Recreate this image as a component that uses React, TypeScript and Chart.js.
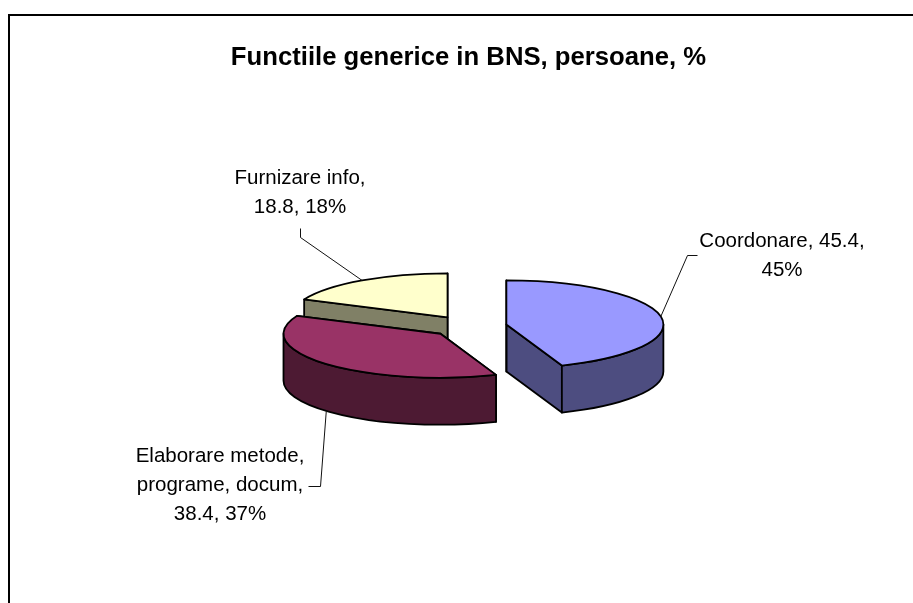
import React, { useEffect, useRef } from "react";
import { Chart, registerables } from "chart.js";

Chart.register(...registerables);

const categories = ["Coordonare", "Elaborare metode, programe, docum", "Furnizare info"];
const values = [45.4, 38.4, 18.8];
const topColors = ["#9999FF", "#993366", "#FFFFCC"];
const sideColors = ["#4D4D80", "#4D1A33", "#808066"];
const titleText = "Functiile generice in BNS, persoane, %";
const labelLines = [
  ["Coordonare, 45.4,", "45%"],
  ["Elaborare metode,", "programe, docum,", "38.4, 37%"],
  ["Furnizare info,", "18.8, 18%"],
];

const Y_RATIO = 0.28;
const DEPTH = 47;
const RADIUS = 157;
const EXPLODE = 38.5;
const LABEL_FONT = "20.5px 'Liberation Sans', Arial, sans-serif";
const LINE_GAP = 29;
// label block: centre x, first-line centre y; leader elbow points (label side)
const labelPlacement = [
  { x: 782, y: 241, elbow: [[697, 255], [687, 255]], onBase: false },
  { x: 220, y: 456, elbow: [[308, 486], [320, 486]], onBase: true },
  { x: 300, y: 178, elbow: [[300, 228], [300, 237]], onBase: false },
];

const pie3d = {
  id: "pie3d",
  beforeDraw(chart: any) {
    const { ctx, width } = chart;
    ctx.save();
    ctx.fillStyle = "#000";
    ctx.fillRect(8, 14, width - 8, 2);
    ctx.fillRect(8, 14, 2, chart.height - 14);
    ctx.restore();
  },
  beforeDatasetsDraw(chart: any) {
    const { ctx } = chart;
    const arcs = chart.getDatasetMeta(0).data;
    const geom = arcs.map((el: any) => {
      const mid = (el.startAngle + el.endAngle) / 2;
      const off = el.options.offset;
      return {
        cx: el.x + Math.cos(mid) * off,
        cy: el.y + Math.sin(mid) * off * Y_RATIO,
        rx: el.outerRadius,
        ry: el.outerRadius * Y_RATIO,
        a0: el.startAngle,
        a1: el.endAngle,
        mid,
      };
    });
    ctx.save();
    ctx.lineWidth = 1.8;
    ctx.strokeStyle = "#000";
    ctx.lineJoin = "round";
    for (let i = arcs.length - 1; i >= 0; i--) {
      const { cx, cy, rx, ry, a0, a1 } = geom[i];
      const rim = (a: number) => [cx + rx * Math.cos(a), cy + ry * Math.sin(a)];
      // radial faces
      for (const a of [a1, a0]) {
        const [x, y] = rim(a);
        ctx.beginPath();
        ctx.moveTo(cx, cy);
        ctx.lineTo(x, y);
        ctx.lineTo(x, y + DEPTH);
        ctx.lineTo(cx, cy + DEPTH);
        ctx.closePath();
        ctx.fillStyle = sideColors[i];
        ctx.fill();
        ctx.stroke();
      }
      // outer wall, front half only
      const w0 = Math.max(a0, 0);
      const w1 = Math.min(a1, Math.PI);
      if (w0 < w1) {
        ctx.beginPath();
        ctx.ellipse(cx, cy, rx, ry, 0, w0, w1);
        ctx.ellipse(cx, cy + DEPTH, rx, ry, 0, w1, w0, true);
        ctx.closePath();
        ctx.fillStyle = sideColors[i];
        ctx.fill();
        ctx.stroke();
      }
      // top
      ctx.beginPath();
      ctx.moveTo(cx, cy);
      ctx.ellipse(cx, cy, rx, ry, 0, a0, a1);
      ctx.closePath();
      ctx.fillStyle = arcs[i].options.backgroundColor;
      ctx.fill();
      ctx.stroke();
    }
    // leaders and labels
    ctx.lineWidth = 1;
    ctx.strokeStyle = "#111";
    ctx.fillStyle = "#000";
    ctx.font = LABEL_FONT;
    ctx.textAlign = "center";
    ctx.textBaseline = "middle";
    labelPlacement.forEach((p, i) => {
      const g = geom[i];
      const ex = g.cx + g.rx * Math.cos(g.mid);
      const ey = g.cy + g.ry * Math.sin(g.mid) + (p.onBase ? DEPTH : 0);
      ctx.beginPath();
      ctx.moveTo(p.elbow[0][0] + 0.5, p.elbow[0][1] + 0.5);
      ctx.lineTo(p.elbow[1][0] + 0.5, p.elbow[1][1] + 0.5);
      ctx.lineTo(ex, ey);
      ctx.stroke();
      labelLines[i].forEach((t, j) => ctx.fillText(t, p.x, p.y + j * LINE_GAP));
    });
    ctx.restore();
    return false;
  },
};

export default function App() {
  const ref = useRef<HTMLCanvasElement>(null);
  useEffect(() => {
    const chart = new Chart(ref.current!, {
      type: "pie",
      data: {
        labels: categories,
        datasets: [
          {
            data: values,
            backgroundColor: topColors,
            offset: EXPLODE,
            radius: RADIUS,
            borderWidth: 0,
          } as any,
        ],
      },
      options: {
        animation: false,
        responsive: false,
        layout: { padding: { left: 24, right: 0, top: 0, bottom: 21 } },
        plugins: {
          legend: { display: false },
          tooltip: { enabled: false },
          title: {
            display: true,
            text: titleText,
            color: "#000",
            font: { family: "'Liberation Sans', Arial, sans-serif", size: 25.7, weight: "bold", lineHeight: 1 },
            padding: { top: 45, bottom: 0 },
          },
        },
      },
      plugins: [pie3d],
    });
    return () => chart.destroy();
  }, []);
  return (
    <div style={{ position: "fixed", left: 0, top: 0, width: 913, height: 603, background: "#fff" }}>
      <canvas ref={ref} width={913} height={603} style={{ display: "block" }} />
    </div>
  );
}
